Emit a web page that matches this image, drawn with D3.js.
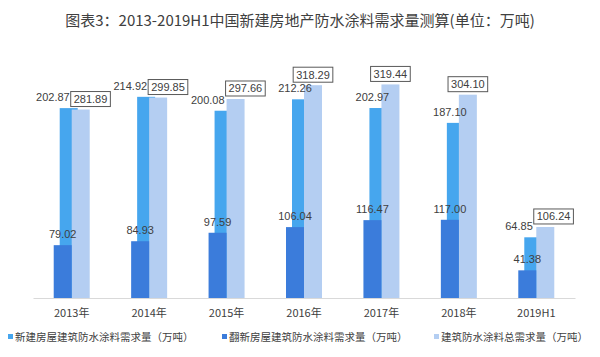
<!DOCTYPE html>
<html><head><meta charset="utf-8">
<script src="https://cdn.jsdelivr.net/npm/d3@7"></script>
<style>
html,body{margin:0;padding:0;background:#fff;}
svg{display:block;font-family:"Liberation Sans","Noto Sans CJK SC",sans-serif;}
</style></head>
<body>
<svg id="chart" width="600" height="357"></svg>
<script>
const title = "图表3：2013-2019H1中国新建房地产防水涂料需求量测算(单位：万吨)";
const categories = ["2013年","2014年","2015年","2016年","2017年","2018年","2019H1"];
const newBuild = [202.87, 214.92, 200.08, 212.26, 202.97, 187.10, 64.85];
const renovation = [79.02, 84.93, 97.59, 106.04, 116.47, 117.00, 41.38];
const total = [281.89, 299.85, 297.66, 318.29, 319.44, 304.10, 106.24];
const seriesNames = ["新建房屋建筑防水涂料需求量（万吨）","翻新房屋建筑防水涂料需求量（万吨）","建筑防水涂料总需求量（万吨）"];
const colors = ["#46a6ee","#3b7cdb","#b4cef2"];

const svg = d3.select("#chart");
const textColor = "#404040";

svg.append("text").attr("x", 300).attr("y", 26).attr("text-anchor","middle")
  .attr("font-size", 15).attr("fill", textColor)
  .attr("font-family", "'Noto Sans CJK SC','Liberation Sans',sans-serif")
  .text(title);

const x = d3.scaleBand().domain(categories).range([33, 575]);
const yMain = d3.scaleLinear().domain([0, 350]).range([298, 64]);
const ySec = d3.scaleLinear().domain([0, 250]).range([298, 64]);
const bw = 18;

const g = svg.append("g");
const data = categories.map((c, i) => ({c, n: newBuild[i], r: renovation[i], t: total[i]}));
const cx = d => x(d.c) + x.bandwidth() / 2;

// new-build bars (secondary axis)
g.selectAll(".bn").data(data).enter().append("rect")
  .attr("x", d => cx(d) - 12).attr("width", bw)
  .attr("y", d => ySec(d.n)).attr("height", d => ySec(0) - ySec(d.n))
  .attr("fill", colors[0]);
// total bars
g.selectAll(".bt").data(data).enter().append("rect")
  .attr("x", d => cx(d)).attr("width", bw)
  .attr("y", d => yMain(d.t)).attr("height", d => yMain(0) - yMain(d.t))
  .attr("fill", colors[2]);
// renovation bars
g.selectAll(".br").data(data).enter().append("rect")
  .attr("x", d => cx(d) - bw).attr("width", bw)
  .attr("y", d => yMain(d.r)).attr("height", d => yMain(0) - yMain(d.r))
  .attr("fill", colors[1]);

// axis
const axis = svg.append("g").attr("transform", "translate(0,298)")
  .call(d3.axisBottom(x).tickSize(0).tickPadding(11));
axis.select(".domain").attr("stroke", "#d9d9d9");
axis.selectAll("text").attr("font-size", 11).attr("fill", textColor)
  .attr("font-family", "'Noto Sans CJK SC','Liberation Sans',sans-serif");

const fmt = d3.format(".2f");
const fs = 11;
const meas = svg.append("text").attr("font-size", fs).attr("visibility","hidden");
function tw(s){ meas.text(s); return meas.node().getComputedTextLength(); }

// renovation labels
g.selectAll(".lr").data(data).enter().append("text")
  .attr("x", d => cx(d) - bw/2).attr("y", d => yMain(d.r) - 7)
  .attr("text-anchor","middle").attr("font-size", fs).attr("fill", textColor)
  .text(d => fmt(d.r));

// new labels and total boxes with simple collision avoidance
const boxH = 15, pad = 3;
data.forEach(d => {
  const s1 = fmt(d.n), w1 = tw(s1);
  let lx = cx(d) - 9;
  const ly = ySec(d.n) - 7;
  const s2 = fmt(d.t), w2 = tw(s2) + pad*2;
  let bx = cx(d) + bw/2;
  const bBottom = yMain(d.t) - 3, bTop = bBottom - boxH;
  const lTop = ly - 9, lBot = ly + 2;
  const vOverlap = lBot > bTop && lTop < bBottom;
  const lRight = lx + w1/2, bLeft = bx - w2/2;
  if (vOverlap && lRight + 1 > bLeft) {
    const ov = lRight + 1 - bLeft;
    lx -= ov/2; bx += ov/2;
  }
  g.append("text").attr("x", lx).attr("y", ly).attr("text-anchor","middle")
    .attr("font-size", fs).attr("fill", textColor).text(s1);
  g.append("rect").attr("x", bx - w2/2).attr("y", bTop).attr("width", w2).attr("height", boxH)
    .attr("fill", "#fff").attr("stroke", "#595959").attr("stroke-width", 1);
  g.append("text").attr("x", bx).attr("y", bBottom - 3.5).attr("text-anchor","middle")
    .attr("font-size", fs).attr("fill", textColor).text(s2);
});

// legend
const legendX = [8, 222, 434];
const lg = svg.append("g");
seriesNames.forEach((s, i) => {
  lg.append("rect").attr("x", legendX[i]).attr("y", 334).attr("width", 5).attr("height", 5).attr("fill", colors[i]);
  lg.append("text").attr("x", legendX[i] + 7).attr("y", 341)
    .attr("font-size", 10.5).attr("fill", textColor)
    .attr("font-family", "'Noto Sans CJK SC','Liberation Sans',sans-serif")
    .text(s);
});
</script>
</body></html>
